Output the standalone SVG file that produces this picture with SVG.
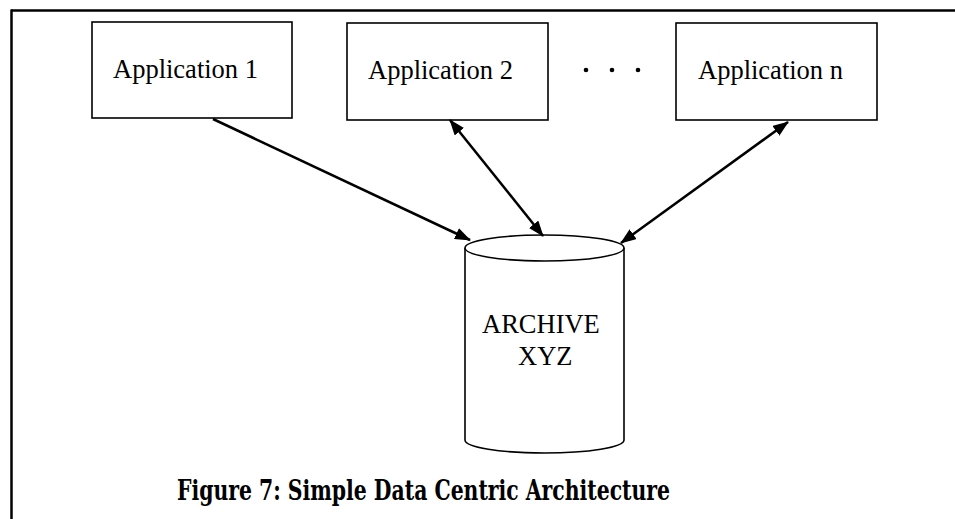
<svg xmlns="http://www.w3.org/2000/svg" width="955" height="519" viewBox="0 0 955 519">
<defs>
<style>
.box{fill:#fff;stroke:#000;stroke-width:1.6}
.lbl{font-family:"Liberation Serif","Times New Roman",serif;font-size:26.5px;fill:#000}
.conn{stroke:#000;stroke-width:2.5;fill:none}
.cap{font-family:"DejaVu Serif Condensed","DejaVu Serif",serif;font-stretch:condensed;font-weight:bold;font-size:27px;fill:#000}
</style>
<marker id="ah" viewBox="0 0 16 12" refX="15" refY="6" markerWidth="16" markerHeight="12" markerUnits="userSpaceOnUse" orient="auto-start-reverse">
<path d="M0,0 L16,6 L0,12 Z" fill="#000"/>
</marker>
</defs>
<rect width="955" height="519" fill="#fff"/>
<g id="frame">
<line x1="11" y1="10.5" x2="955" y2="10.5" stroke="#000" stroke-width="2.5"/>
<line x1="11.5" y1="9.5" x2="11.5" y2="519" stroke="#000" stroke-width="2.5"/>
</g>
<g id="app1">
<rect class="box" x="92" y="22" width="200" height="96"/>
<text class="lbl" x="113" y="78">Application 1</text>
</g>
<g id="app2">
<rect class="box" x="347" y="23" width="201" height="97"/>
<text class="lbl" x="368" y="79">Application 2</text>
</g>
<g id="ellipsis">
<circle cx="586" cy="70" r="2.3" fill="#000"/>
<circle cx="612" cy="70" r="2.3" fill="#000"/>
<circle cx="638" cy="70" r="2.3" fill="#000"/>
</g>
<g id="appn">
<rect class="box" x="676" y="23" width="201" height="97"/>
<text class="lbl" x="698" y="79">Application n</text>
</g>
<g id="archive">
<path class="box" d="M465,248 L465,440 A79.5,13 0 0 0 624,440 L624,248"/>
<ellipse class="box" cx="544.5" cy="248" rx="79.5" ry="13"/>
<text class="lbl" x="482" y="333">ARCHIVE</text>
<text class="lbl" x="518" y="365">XYZ</text>
</g>
<g id="connectors">
<line class="conn" x1="213" y1="119" x2="470" y2="240" marker-end="url(#ah)"/>
<line class="conn" x1="450" y1="120" x2="543" y2="236" marker-start="url(#ah)" marker-end="url(#ah)"/>
<line class="conn" x1="788" y1="122" x2="621" y2="243" marker-start="url(#ah)" marker-end="url(#ah)"/>
</g>
<g id="caption">
<text class="cap" x="177" y="500" textLength="493" lengthAdjust="spacingAndGlyphs">Figure 7: Simple Data Centric Architecture</text>
</g>
</svg>
